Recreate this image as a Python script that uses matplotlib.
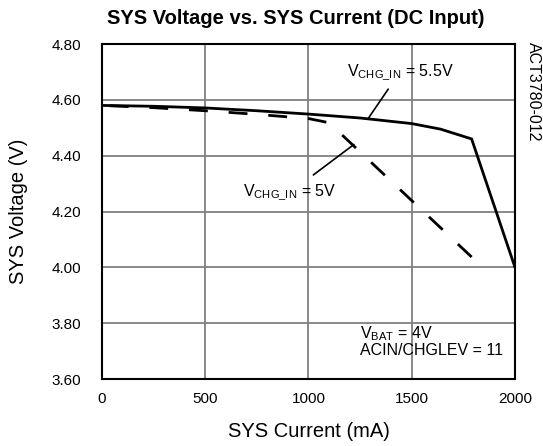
import matplotlib
matplotlib.use("Agg")
import matplotlib.pyplot as plt

plt.rcParams['font.family'] = ['Liberation Sans', 'DejaVu Sans']
plt.rcParams['mathtext.fontset'] = 'custom'
plt.rcParams['mathtext.rm'] = 'Liberation Sans'
plt.rcParams['mathtext.default'] = 'regular'

# --- Data ---
current_55 = [0, 250, 500, 750, 1000, 1250, 1500, 1640, 1790, 2000]
voltage_55 = [4.58, 4.577, 4.571, 4.561, 4.549, 4.535, 4.515, 4.495, 4.46, 4.00]

current_5 = [0, 250, 500, 750, 1000, 1100, 1790]
voltage_5 = [4.58, 4.572, 4.561, 4.548, 4.533, 4.518, 4.037]

x_ticks = [0, 500, 1000, 1500, 2000]
y_ticks = [3.60, 3.80, 4.00, 4.20, 4.40, 4.60, 4.80]

fig = plt.figure(figsize=(5.43, 4.46), dpi=100)
ax = fig.add_axes([0.1878, 0.1502, 0.7606, 0.7511])

ax.plot(current_55, voltage_55, color='black', lw=2.0, solid_joinstyle='miter')
# drawn from the far end so the dash pattern starts at the last point
ax.plot(current_5[::-1], voltage_5[::-1], color='black', lw=2.0, dashes=(6.8, 7.5))

ax.set_xlim(0, 2000)
ax.set_ylim(3.60, 4.80)
ax.set_xticks(x_ticks)
ax.set_yticks(y_ticks)
ax.set_yticklabels([f"{v:.2f}" for v in y_ticks])
ax.tick_params(length=0, labelsize=11)
ax.tick_params(axis='x', pad=9)
ax.tick_params(axis='y', pad=15)
ax.grid(True, color='#808080', lw=1.3)
ax.set_axisbelow(True)
for s in ax.spines.values():
    s.set_linewidth(1.5)

ax.set_xlabel('SYS Current (mA)', fontsize=14.5, labelpad=12)
ax.set_ylabel('SYS Voltage (V)', fontsize=14.5, labelpad=17)
fig.text(0.545, 0.958, 'SYS Voltage vs. SYS Current (DC Input)', ha='center',
         va='center', fontsize=14.5, fontweight='bold')
fig.text(0.982, 0.905, 'ACT3780-012', rotation=-90, ha='center', va='top', fontsize=11.5)

# annotations with leader lines
ax.annotate(r'V$_{CHG\_IN}$ = 5.5V', xy=(1288, 4.532), xytext=(1443, 4.70),
            fontsize=11.5, ha='center', va='center',
            arrowprops=dict(arrowstyle='-', color='black', lw=1.2, shrinkA=4, shrinkB=0))
ax.annotate(r'V$_{CHG\_IN}$ = 5V', xy=(1220, 4.44), xytext=(910, 4.268),
            fontsize=11.5, ha='center', va='center',
            arrowprops=dict(arrowstyle='-', color='black', lw=1.2, shrinkA=6, shrinkB=0))

ax.text(1250, 3.735, r'V$_{BAT}$ = 4V' + '\nACIN/CHGLEV = 11', fontsize=11.5,
        ha='left', va='center', linespacing=1.0)

fig.savefig('out.png', dpi=100)
